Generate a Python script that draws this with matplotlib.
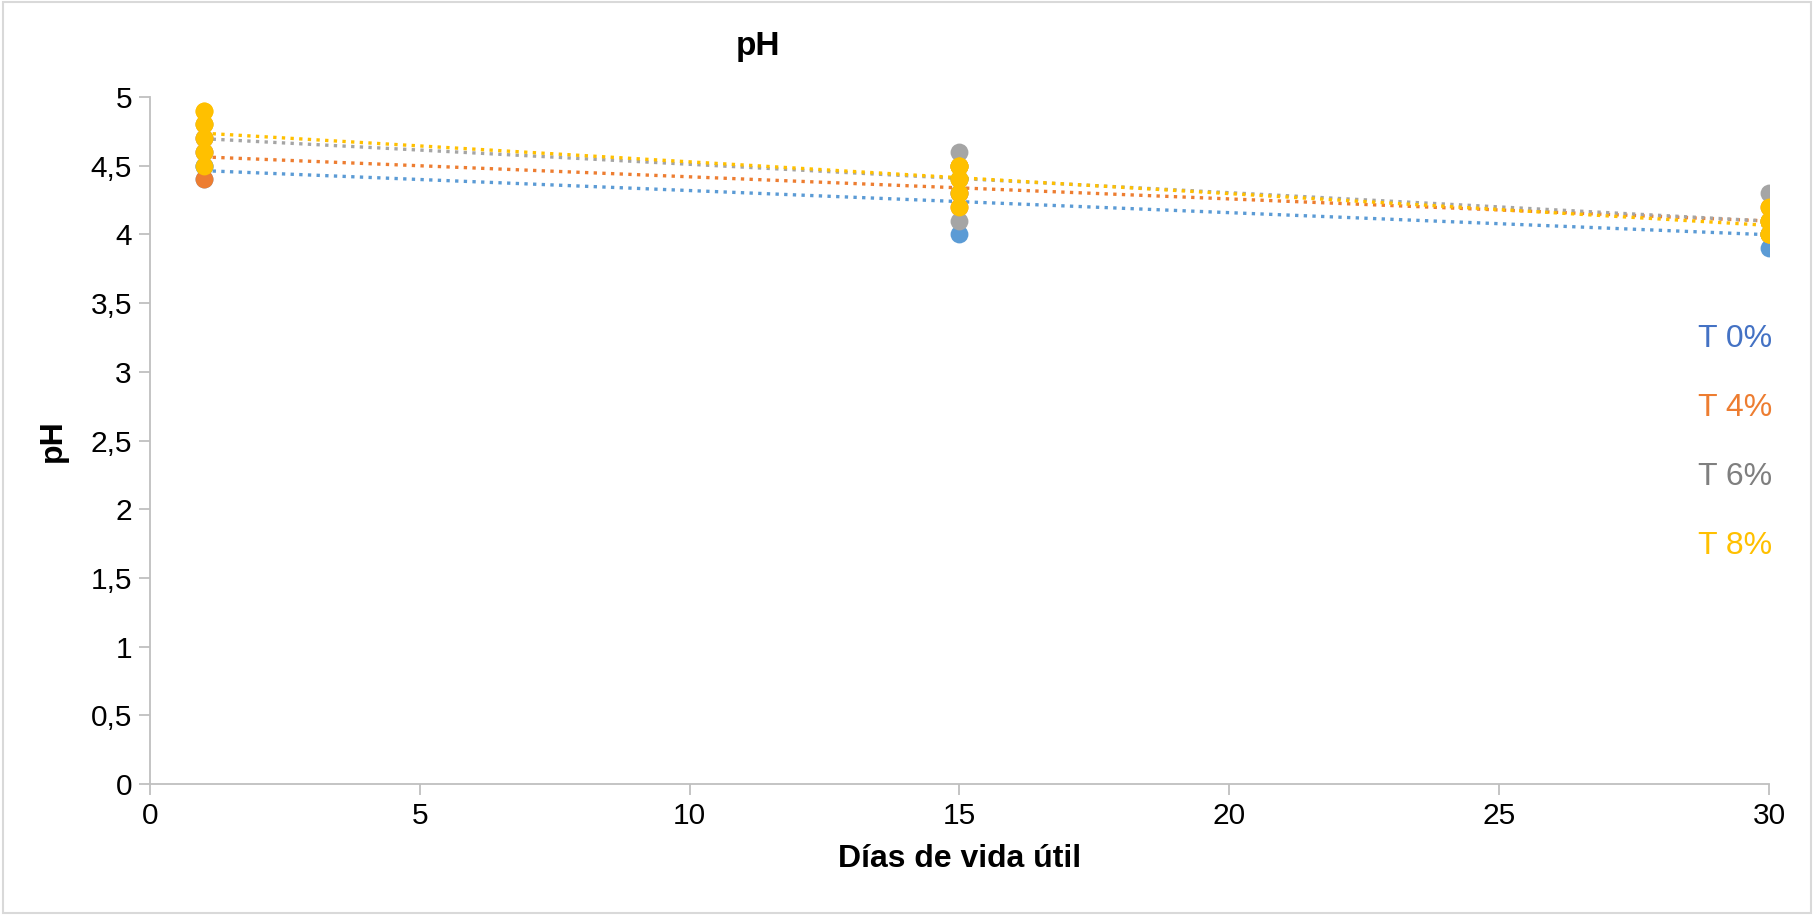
"""pH over shelf life for four treatments, with linear trendlines."""

import matplotlib
matplotlib.use("Agg")
import matplotlib.pyplot as plt
import numpy as np
from matplotlib.patches import Rectangle

plt.rcParams["font.family"] = ["Liberation Sans", "DejaVu Sans"]

# day of measurement and replicate readings per treatment
days = [1, 15, 30]
t0 = [[4.4, 4.5, 4.5], [4.0, 4.3, 4.4], [3.9, 4.0, 4.1]]
t4 = [[4.4, 4.6, 4.7], [4.2, 4.3, 4.5], [4.0, 4.1, 4.2]]
t6 = [[4.6, 4.7, 4.8], [4.1, 4.5, 4.6], [4.0, 4.0, 4.3]]
t8 = [[4.5, 4.6, 4.7, 4.8, 4.9, 4.9, 4.8], [4.2, 4.3, 4.4, 4.5, 4.4, 4.5, 4.5],
      [4.0, 4.1, 4.2, 4.1, 4.0, 4.0, 4.1]]

names = ["T 0%", "T 4%", "T 6%", "T 8%"]
series = [t0, t4, t6, t8]
colors = ["#5B9BD5", "#ED7D31", "#A5A5A5", "#FFC000"]
text_colors = ["#4472C4", "#ED7D31", "#7F7F7F", "#FFC000"]

W, H = 1814, 915
fig = plt.figure(figsize=(W / 100, H / 100), dpi=100)
ax = fig.add_axes([150 / W, 1 - 784 / H, (1769 - 150) / W, (784 - 97) / H])

for vals, c in zip(series, colors):
    xs = np.concatenate([[d] * len(v) for d, v in zip(days, vals)])
    ys = np.concatenate(vals)
    ax.scatter(xs, ys, s=165, color=c, zorder=3, linewidths=0)
    k, b = np.polyfit(xs, ys, 1)
    xx = np.array([days[0], days[-1]])
    ax.plot(xx, k * xx + b, color=c, lw=2.4, linestyle=(0, (1, 1.6)),
            zorder=2)

ax.set_xlim(0, 30)
ax.set_ylim(0, 5)
ax.set_xticks(np.arange(0, 31, 5))
ax.set_yticks(np.arange(0, 5.01, 0.5))
ax.set_yticklabels([f"{v:g}".replace(".", ",") for v in np.arange(0, 5.01, 0.5)])
for s in ["top", "right"]:
    ax.spines[s].set_visible(False)
for s in ["left", "bottom"]:
    ax.spines[s].set_color("#BFBFBF")
    ax.spines[s].set_linewidth(1.3)
ax.tick_params(axis="both", labelsize=21.5, color="#BFBFBF", length=8,
               width=1.3, pad=5)
ax.set_xlabel("Días de vida útil", fontsize=23, fontweight="bold", labelpad=10)
ax.set_ylabel("pH", fontsize=23, fontweight="bold", labelpad=16)

fig.text(758 / W, 1 - 46 / H, "pH", fontsize=24, fontweight="bold",
         ha="center", va="center")

for i, (n, c) in enumerate(zip(names, text_colors)):
    fig.text(1735 / W, 1 - (339 + i * 69) / H, n, fontsize=23, color=c,
             ha="center", va="center")

fig.patches.append(Rectangle((0.0015, 0.002), 0.997, 0.996,
                             transform=fig.transFigure, fill=False,
                             edgecolor="#D9D9D9", lw=1.5))

fig.savefig("out.png", dpi=100)
